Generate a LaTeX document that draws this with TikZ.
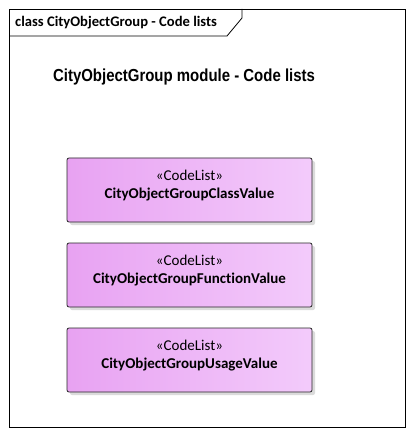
\documentclass[tikz,border=0pt]{standalone}
\usepackage{fontspec}
\setmainfont[Ligatures={NoCommon}]{Carlito}
\newfontfamily\titlefont{Liberation Sans}
\usetikzlibrary{shadows}
\definecolor{cldark}{HTML}{E8A2F2}
\definecolor{cllight}{HTML}{F3CBFB}
\tikzset{
  codelist/.style={rectangle, rounded corners=2pt, draw=black!85, line width=0.8pt,
    left color=cldark, right color=cllight, minimum width=245pt, minimum height=64pt,
    drop shadow={shadow xshift=3pt, shadow yshift=-3pt, fill=black!14, opacity=1}},
  cltext/.style={align=center, inner sep=0pt, font=\fontsize{15pt}{18pt}\selectfont},
  frame/.style={draw=black, line width=0.8pt},
}
\begin{document}
\begin{tikzpicture}[x=1pt,y=-1pt]
\useasboundingbox (0,0) rectangle (413,435);
\fill[white] (0,0) rectangle (413,435);
\draw[frame] (9,9) rectangle (405.5,427);
\draw[frame] (9,36) -- (227,36) -- (242,18) -- (242,9);
\node[anchor=west, inner sep=0pt, font=\fontsize{14.6pt}{16pt}\selectfont\bfseries] (hdr) at (15,23) {class CityObjectGroup - Code lists};
\node[font=\titlefont\bfseries\fontsize{17.4pt}{20pt}\selectfont, xscale=0.86, transform shape] (title) at (184,77) {CityObjectGroup module - Code lists};
\node[codelist] (c1) at (189.5,190) {};
\node[codelist] (c2) at (189.5,275) {};
\node[codelist] (c3) at (189.5,360) {};
\node[cltext] (t1) at ([yshift=4pt]c1.center) {«CodeList»\\\textbf{CityObjectGroupClassValue}};
\node[cltext] (t2) at ([yshift=4pt]c2.center) {«CodeList»\\\textbf{CityObjectGroupFunctionValue}};
\node[cltext] (t3) at ([yshift=4pt]c3.center) {«CodeList»\\\textbf{CityObjectGroupUsageValue}};
\end{tikzpicture}
\end{document}
